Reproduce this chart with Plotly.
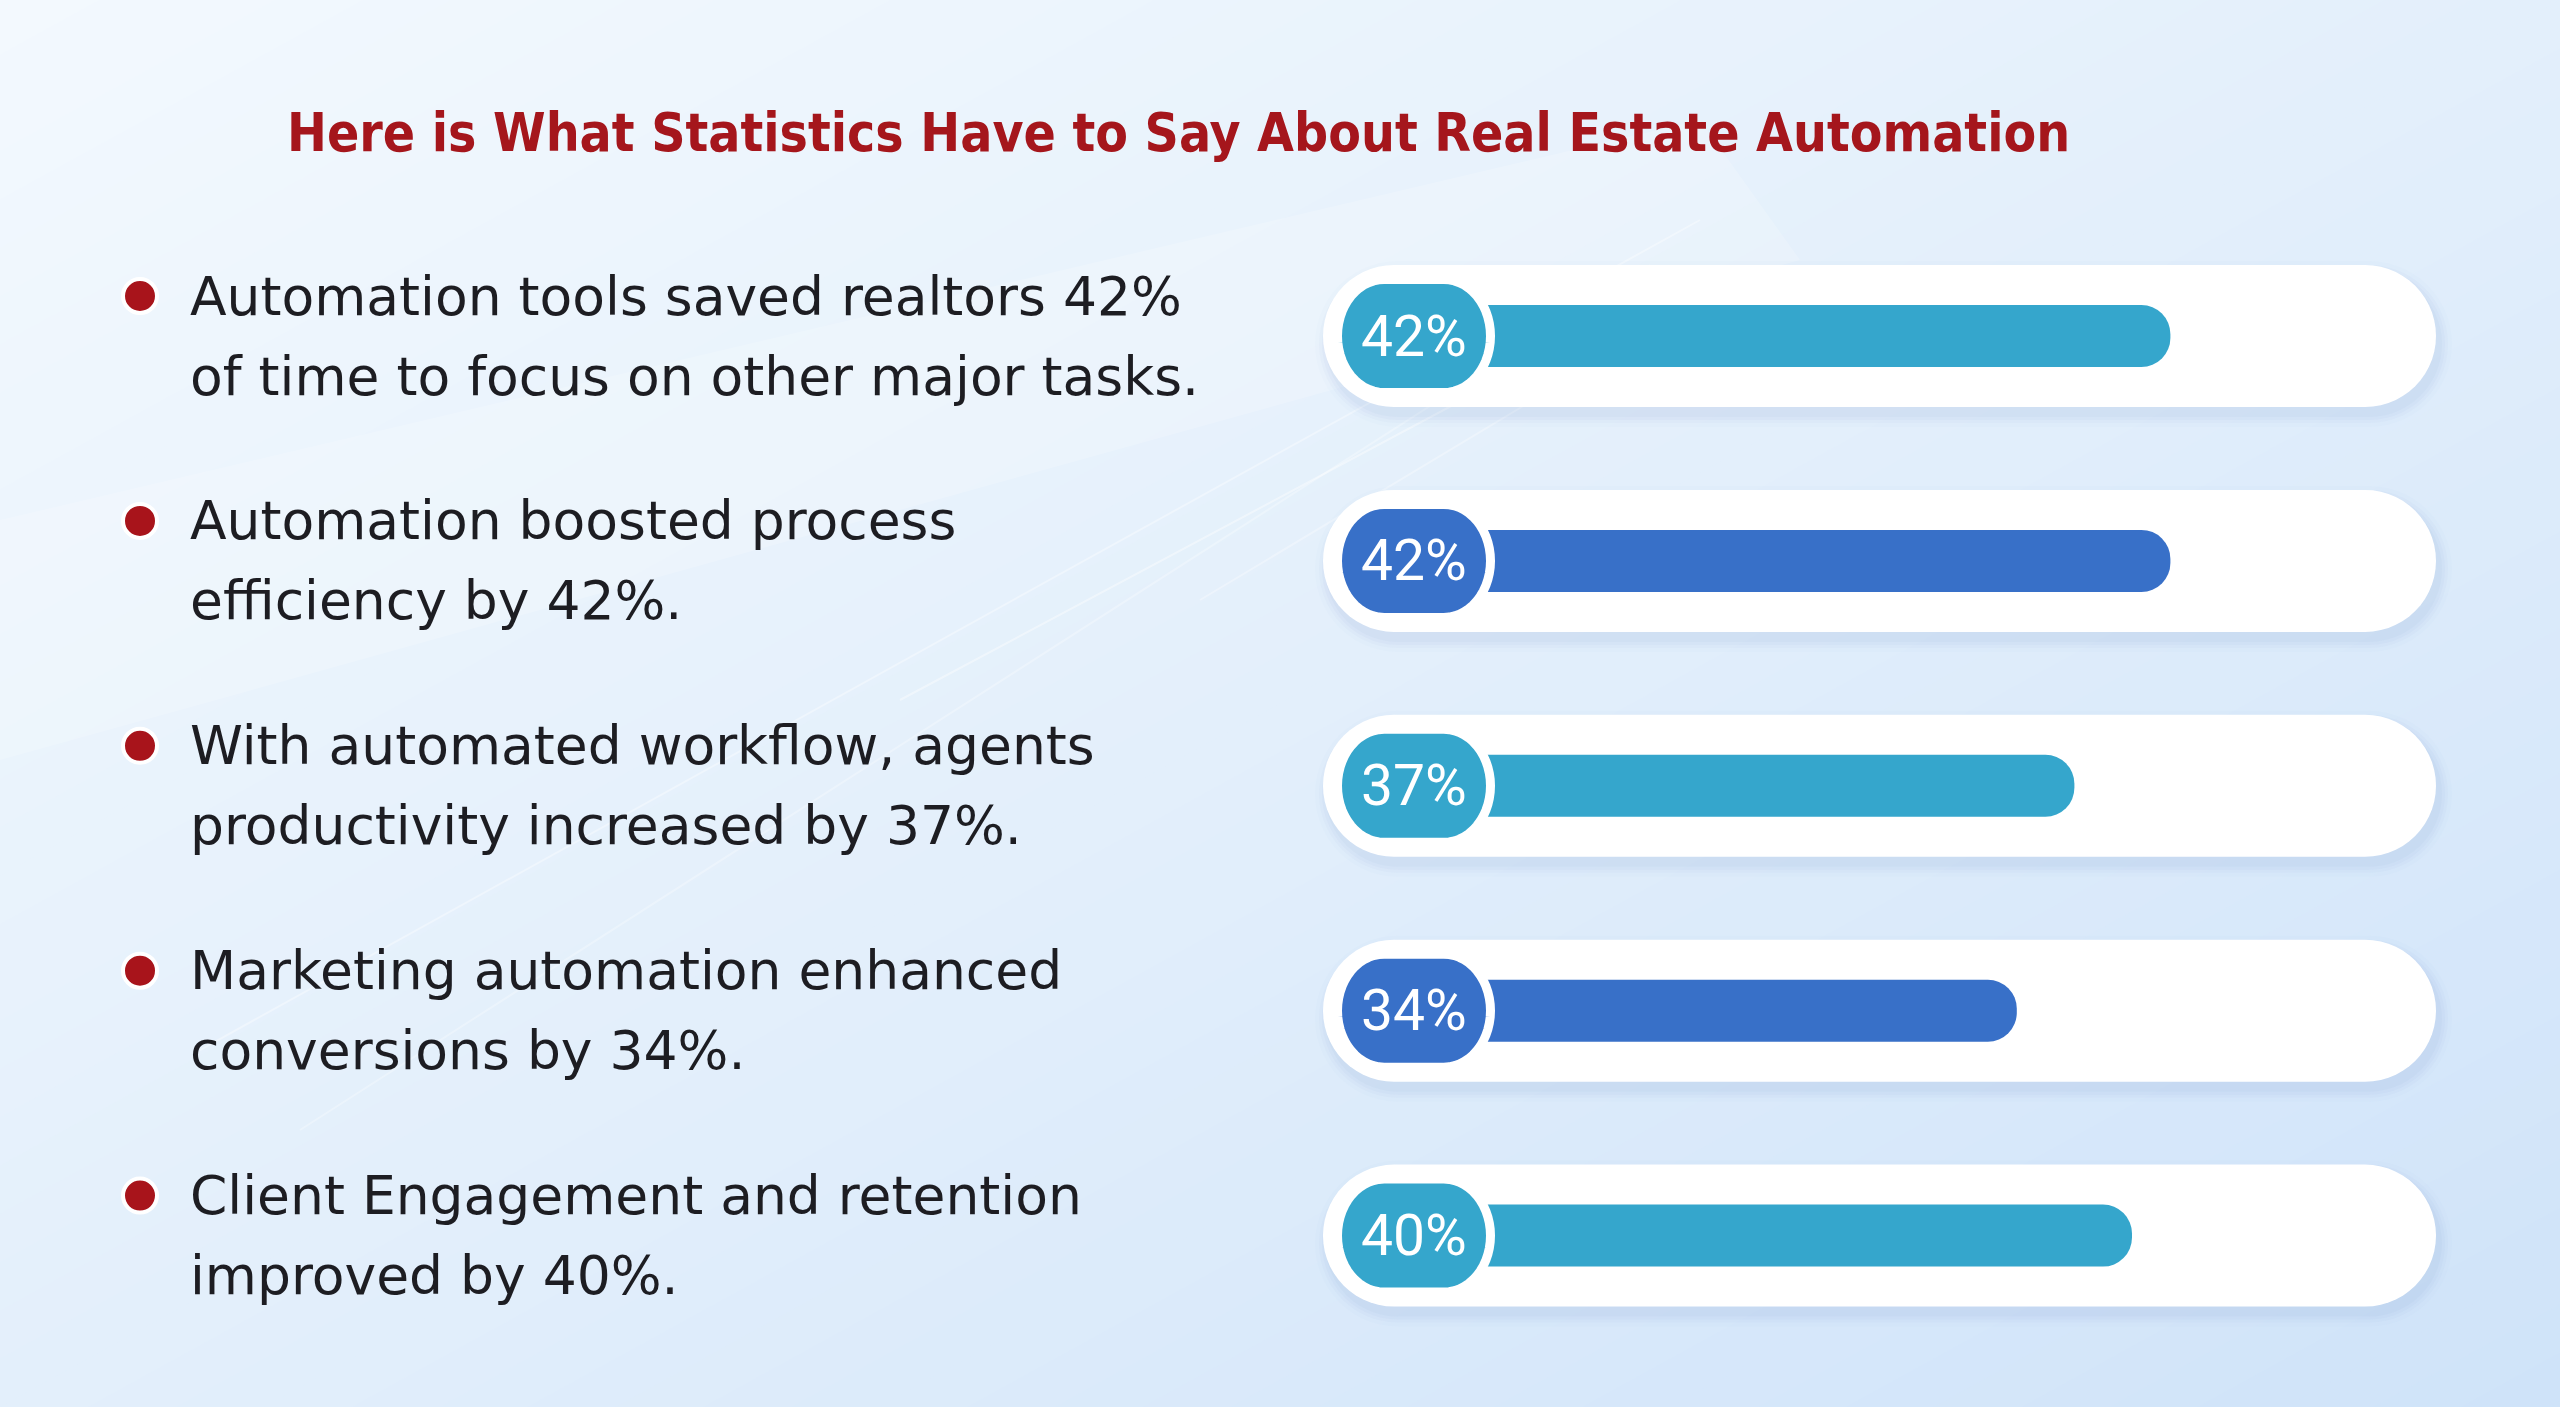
import math
import plotly.graph_objects as go

# ---------------- data ----------------
title_text = "Here is What Statistics Have to Say About Real Estate Automation"
labels = [
    "Automation tools saved realtors 42%<br>of time to focus on other major tasks.",
    "Automation boosted process<br>efficiency by 42%.",
    "With automated workflow, agents<br>productivity increased by 37%.",
    "Marketing automation enhanced<br>conversions by 34%.",
    "Client Engagement and retention<br>improved by 40%.",
]
values = [42, 42, 37, 34, 40]
badge_labels = [f"{v}%" for v in values]
rows = list(range(len(values)))

# ---------------- style ----------------
W, H = 2560, 1407
TEAL, BLUE = "#35A6CC", "#3870C8"
bar_colors = [TEAL, BLUE, TEAL, BLUE, TEAL]
ROW0_PX, ROW_STEP_PX = 336, 224.9
PX_PER_UNIT = 19.2
X0_PX, X1_PX = 1364, 2436

y_top = -ROW0_PX / ROW_STEP_PX
y_bot = (H - ROW0_PX) / ROW_STEP_PX


def hexrgb(h):
    h = h.lstrip("#")
    return tuple(int(h[i:i + 2], 16) for i in (0, 2, 4))


def lerp_col(c1, c2, t):
    a, b = hexrgb(c1), hexrgb(c2)
    return "rgb(%d,%d,%d)" % tuple(round(a[i] + (b[i] - a[i]) * t) for i in range(3))


def stadium(half_flat, rx, ry, n=28):
    pts = []
    for k in range(n + 1):
        a = -math.pi / 2 + math.pi * k / n
        pts.append((half_flat + rx * math.cos(a), ry * math.sin(a)))
    for k in range(n + 1):
        a = math.pi / 2 + math.pi * k / n
        pts.append((-half_flat + rx * math.cos(a), ry * math.sin(a)))
    return "M " + " L ".join(f"{x:.2f},{y:.2f}" for x, y in pts) + " Z"


shapes = []

# background diagonal gradient
stops = [(0.0, "#f3f9fe"), (1.0, "#e3effb"), (2.0, "#cfe3f9")]


def bg_color(s):
    s = min(max(s, 0), 2)
    if s <= 1:
        return lerp_col(stops[0][1], stops[1][1], s)
    return lerp_col(stops[1][1], stops[2][1], s - 1)


N = 60
s_lo, s_hi = -0.03, 2.03
for k in range(N):
    s0 = s_lo + (s_hi - s_lo) * k / N
    s1 = s_lo + (s_hi - s_lo) * (k + 1) / N + 0.004
    col = bg_color((s0 + s1) / 2)
    pts = [(s0 * W, 0), (s1 * W, 0), ((s1 - 1) * W, H), ((s0 - 1) * W, H)]
    path = "M " + " L ".join(f"{x / W:.5f},{1 - y / H:.5f}" for x, y in pts) + " Z"
    shapes.append(dict(type="path", xref="paper", yref="paper", path=path,
                       fillcolor=col, line=dict(width=0), layer="below"))

# soft light band and faint streaks
band = [(0, 520), (1700, 120), (1800, 260), (0, 760)]
shapes.append(dict(type="path", xref="paper", yref="paper",
                   path="M " + " L ".join(f"{x / W:.5f},{1 - y / H:.5f}" for x, y in band) + " Z",
                   fillcolor="rgba(255,255,255,0.18)", line=dict(width=0), layer="below"))
streaks = [((1700, 220), (200, 1050), 0.35), ((1650, 265), (300, 1130), 0.28),
           ((1500, 380), (900, 700), 0.4), ((1700, 300), (1200, 600), 0.3)]
for (xa, ya), (xb, yb), op in streaks:
    shapes.append(dict(type="line", xref="paper", yref="paper",
                       x0=xa / W, y0=1 - ya / H, x1=xb / W, y1=1 - yb / H,
                       line=dict(color=f"rgba(255,255,255,{op})", width=2), layer="below"))

# pills (shadow + white)
pill_cx = (1323 + 2436) / 2 / W
pill_half = (2436 - 1323) / 2
for i in rows:
    for sp, a in [(12, 0.025), (8, 0.035), (5, 0.045), (2, 0.05)]:
        shapes.append(dict(type="path", xref="paper", yref="y",
                           xsizemode="pixel", ysizemode="pixel",
                           xanchor=pill_cx + 4 / W, yanchor=i + 8 / ROW_STEP_PX,
                           path=stadium(pill_half - 71, 71 + sp, 71 + sp),
                           fillcolor=f"rgba(110,150,205,{a})", line=dict(width=0), layer="below"))
    shapes.append(dict(type="path", xref="paper", yref="y",
                       xsizemode="pixel", ysizemode="pixel",
                       xanchor=pill_cx, yanchor=i,
                       path=stadium(pill_half - 71, 71, 71),
                       fillcolor="#ffffff", line=dict(width=0), layer="below"))

# badges
badge_cx = 1414 / W
for i in rows:
    shapes.append(dict(type="path", xref="paper", yref="y",
                       xsizemode="pixel", ysizemode="pixel",
                       xanchor=badge_cx, yanchor=i,
                       path=stadium(30, 46.5, 56.5),
                       fillcolor=bar_colors[i], line=dict(color="#ffffff", width=9),
                       layer="above"))

# bullets
for i in rows:
    shapes.append(dict(type="circle", xref="paper", yref="y",
                       xsizemode="pixel", ysizemode="pixel",
                       xanchor=140 / W, yanchor=i - 40 / ROW_STEP_PX,
                       x0=-17, x1=17, y0=-17, y1=17,
                       fillcolor="#a8141b", line=dict(color="#ffffff", width=4),
                       layer="above"))

annotations = []
annotations.append(dict(text=f"<b>{title_text}</b>", xref="paper", yref="paper",
                        x=1178 / W, y=1 - 132 / H, xanchor="center", yanchor="middle",
                        showarrow=False,
                        font=dict(family="Liberation Sans Narrow, DejaVu Sans Condensed, sans-serif",
                                  size=53, color="#a5161c")))
for i in rows:
    lines = labels[i].split("<br>")
    for j, ln in enumerate(lines):
        off = (-40 if j == 0 else 40) / ROW_STEP_PX
        annotations.append(dict(text=ln, xref="paper", yref="y", x=188 / W, y=i + off,
                                xanchor="left", yanchor="middle", showarrow=False,
                                font=dict(family="DejaVu Sans, sans-serif", size=53.5,
                                          color="#1d1d22")))
    annotations.append(dict(text=badge_labels[i], xref="paper", yref="y", x=badge_cx, y=i,
                            xanchor="center", yanchor="middle", showarrow=False,
                            font=dict(family="Roboto, sans-serif", size=57, color="#ffffff")))

fig = go.Figure()
fig.add_trace(go.Bar(
    x=values, y=rows, orientation="h", width=62 / ROW_STEP_PX,
    marker=dict(color=bar_colors, line=dict(width=0), cornerradius="48%"),
    hoverinfo="skip", showlegend=False,
))

fig.update_layout(
    width=W, height=H,
    margin=dict(l=0, r=0, t=0, b=0),
    paper_bgcolor="#e4effb",
    plot_bgcolor="rgba(0,0,0,0)",
    shapes=shapes,
    annotations=annotations,
    showlegend=False,
    xaxis=dict(domain=[X0_PX / W, X1_PX / W], range=[0, (X1_PX - X0_PX) / PX_PER_UNIT],
               visible=False, fixedrange=True),
    yaxis=dict(domain=[0, 1], range=[y_bot, y_top], visible=False, fixedrange=True),
)

fig.write_html("out.html", config={"displayModeBar": False},
               post_script="document.body.style.margin='0';document.body.style.overflow='hidden';")
